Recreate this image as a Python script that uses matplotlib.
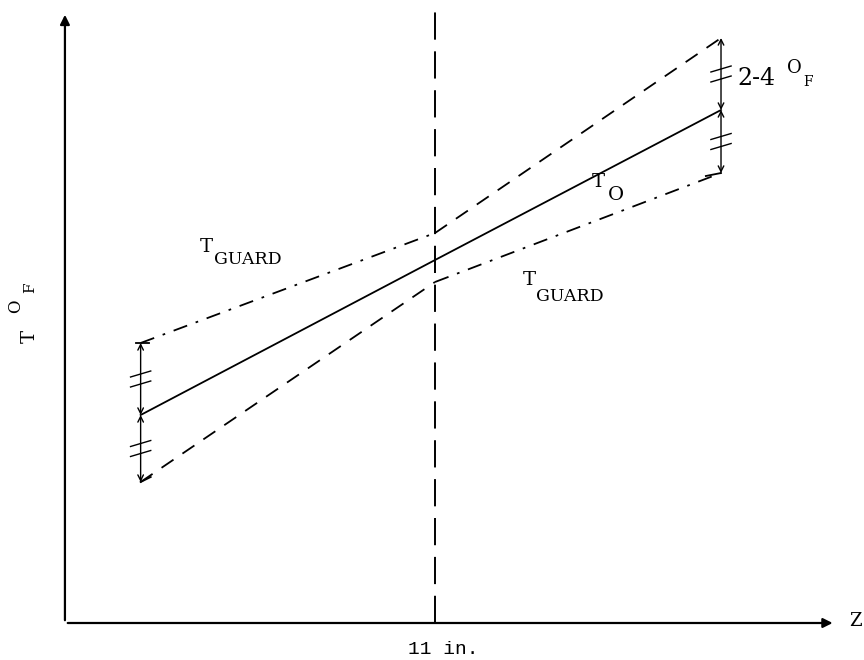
import matplotlib
matplotlib.use("Agg")
import matplotlib.pyplot as plt

# z in inches, T in arbitrary schematic units
z_left, z_mid, z_right = 2.25, 11.0, 19.5
z_max, t_max = 22.9, 61.1

t_o = [20.8, 36.3, 51.3]                       # solid centre line T_O
guard_dashdot = [[28.0, 39.0], [34.1, 45.0]]   # left half / right half
guard_dashed = [[14.1, 34.1], [39.0, 58.5]]

fig = plt.figure(figsize=(8.64, 6.6), dpi=100)
ax = fig.add_axes([0, 0, 1, 1])
ax.set_xlim(-1.93, 23.75)
ax.set_ylim(-3.7, 62.3)
ax.axis("off")

k = "black"
serif = "DejaVu Serif"

# axes with arrows
ax.annotate("", xy=(z_max, 0), xytext=(0, 0),
            arrowprops=dict(arrowstyle="-|>", color=k, lw=1.6, mutation_scale=14))
ax.annotate("", xy=(0, t_max), xytext=(0, 0),
            arrowprops=dict(arrowstyle="-|>", color=k, lw=1.6, mutation_scale=14))

# vertical dashed line at 11 in.
ax.plot([z_mid, z_mid], [0, t_max], color=k, lw=1.4, ls=(0, (14, 6)))

# T_O
ax.plot([z_left, z_mid, z_right], t_o, color=k, lw=1.3)

# guard lines (switch sides at 11 in.)
ax.plot([z_left, z_mid], guard_dashdot[0], color=k, lw=1.3, ls=(0, (8, 5, 1.5, 5)))
ax.plot([z_mid, z_right], guard_dashdot[1], color=k, lw=1.3, ls=(0, (8, 5, 1.5, 5)))
ax.plot([z_left, z_mid], guard_dashed[0], color=k, lw=1.3, ls=(0, (8, 6)))
ax.plot([z_mid, z_right], guard_dashed[1], color=k, lw=1.3, ls=(0, (8, 6)))

# end ticks
ax.plot([z_left - 0.15, z_left + 0.25], [guard_dashdot[0][0]] * 2, color=k, lw=1.3)
ax.plot([z_left, z_left + 0.3], [guard_dashed[0][0], guard_dashed[0][0] + 0.5], color=k, lw=1.3)
ax.plot([z_right - 0.45, z_right], [guard_dashdot[1][1] - 0.3, guard_dashdot[1][1]], color=k, lw=1.3)

# dimension arrows with break marks
def dim(z, a, b):
    ax.annotate("", xy=(z, a), xytext=(z, b),
                arrowprops=dict(arrowstyle="<->", color=k, lw=1.0, mutation_scale=10,
                                shrinkA=0, shrinkB=0))
    m = (a + b) / 2
    for d in (-0.5, 0.5):
        ax.plot([z - 0.3, z + 0.3], [m + d - 0.3, m + d + 0.3], color=k, lw=1.0)

dim(z_left, guard_dashdot[0][0], t_o[0])
dim(z_left, t_o[0], guard_dashed[0][0])
dim(z_right, guard_dashed[1][1], t_o[2])
dim(z_right, t_o[2], guard_dashdot[1][1])

# typewriter style labels: main text plus shifted sub/superscripts
def label(x, y, main, parts, size=14):
    ax.text(x, y, main, fontsize=size, family=serif, va="baseline")
    for txt, dx, dy, s in parts:
        ax.annotate(txt, xy=(x, y), xytext=(dx, dy), textcoords="offset points",
                    fontsize=s, family=serif, va="baseline")

label(4.0, 37.1, "T", [("GUARD", 10.5, -9, 12.5)])
label(13.6, 33.8, "T", [("GUARD", 10, -11.5, 12.5)])
label(15.67, 43.6, "T", [("O", 11, -9.4, 14)])
label(19.98, 53.8, "2-4", [("O", 36, 8.6, 13), ("F", 47.5, -0.7, 10)], size=17)

# rotated y label
ax.text(-1.04, 28.7, "T", fontsize=14, family=serif, rotation=90, va="center", ha="center")
ax.text(-1.46, 31.7, "O", fontsize=12, family=serif, rotation=90, va="center", ha="center")
ax.text(-1.04, 33.5, "F", fontsize=11, family=serif, rotation=90, va="center", ha="center")

ax.text(z_max + 0.4, 0.2, "Z", fontsize=13, family=serif, va="center")
ax.text(10.2, -2.7, "11 in.", fontsize=14, family="Liberation Mono", ha="left", va="center")

fig.savefig("out.png", dpi=100)
